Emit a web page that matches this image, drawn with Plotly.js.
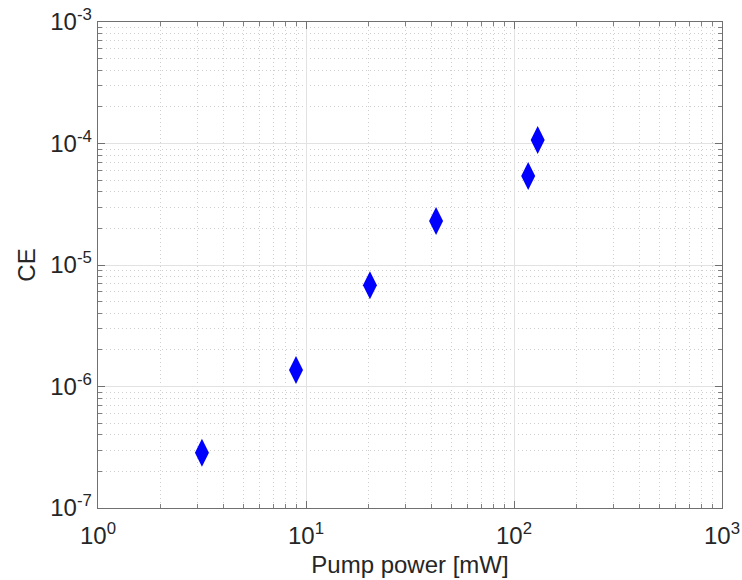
<!DOCTYPE html>
<html><head><meta charset="utf-8">
<script src="https://cdn.plot.ly/plotly-3.0.1.min.js"></script>
<style>body{margin:0;background:#fff}#c{width:742px;height:580px}</style>
</head><body><div id="c"></div>
<script>
const pumpPower = [3.16, 8.95, 20.3, 42.2, 117, 130];
const ce = [2.85e-7, 1.37e-6, 6.8e-6, 2.3e-5, 5.4e-5, 1.07e-4];
const xTickVals = [1, 10, 100, 1000];
const xTickText = ['10<sup>0</sup>', '10<sup>1</sup>', '10<sup>2</sup>', '10<sup>3</sup>'];
const yTickVals = [1e-7, 1e-6, 1e-5, 1e-4, 1e-3];
const yTickText = ['10<sup>-7</sup>', '10<sup>-6</sup>', '10<sup>-5</sup>', '10<sup>-4</sup>', '10<sup>-3</sup>'];

const font = {family: 'Liberation Sans, Arial, sans-serif', color: '#262626'};
const axisCommon = {
  type: 'log', showline: true, linecolor: '#707070', linewidth: 1.3, mirror: 'allticks',
  ticks: 'inside', ticklen: 7, tickcolor: '#707070', tickwidth: 1,
  showgrid: true, gridcolor: '#e2e2e2', gridwidth: 1, zeroline: false,
  tickfont: {family: font.family, size: 24, color: '#262626'},
  minor: {dtick: 'D1', ticks: 'inside', ticklen: 4, tickcolor: '#808080', showgrid: true, gridcolor: '#cfcfcf', griddash: '1px,3px', gridwidth: 1}
};
const data = [{
  x: pumpPower, y: ce, type: 'scatter', mode: 'markers',
  marker: {symbol: 'diamond-tall', size: 20, color: '#0000ff', line: {width: 0}}
}];
const layout = {
  width: 742, height: 580, showlegend: false,
  paper_bgcolor: '#fff', plot_bgcolor: '#fff',
  margin: {l: 98, r: 20, t: 22, b: 72},
  font: font,
  xaxis: Object.assign({}, axisCommon, {
    range: [0, 3], tickmode: 'array', tickvals: xTickVals, ticktext: xTickText,
    ticklabelstandoff: 6,
    title: {text: 'Pump power [mW]', font: {family: font.family, size: 24, color: '#262626'}, standoff: 8}
  }),
  yaxis: Object.assign({}, axisCommon, {
    range: [-7, -3], tickmode: 'array', tickvals: yTickVals, ticktext: yTickText,
    title: {text: 'CE', font: {family: font.family, size: 24, color: '#262626'}, standoff: 8}
  })
};
Plotly.newPlot('c', data, layout, {displayModeBar: false, staticPlot: true});
</script></body></html>
